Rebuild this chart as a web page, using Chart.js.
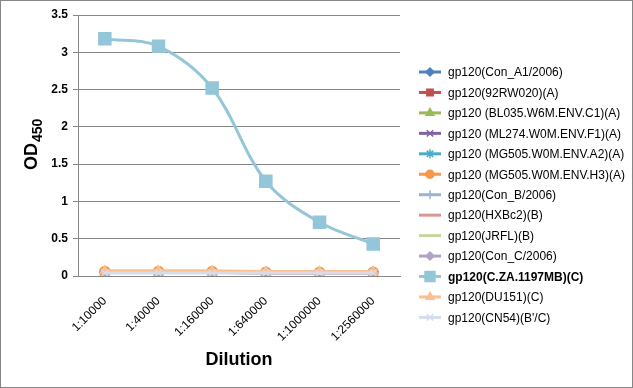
<!DOCTYPE html>
<html>
<head>
<meta charset="utf-8">
<script src="https://cdn.jsdelivr.net/npm/chart.js@4.4.1/dist/chart.umd.min.js"></script>
<style>
  html, body { margin: 0; padding: 0; background: #fff; }
</style>
</head>
<body>
<canvas id="chart" width="633" height="388"></canvas>
<script>
// dilution steps on the x axis
const dilutions = ["1:10000", "1:40000", "1:160000", "1:640000", "1:1000000", "1:2560000"];

// OD450 readings per antigen
const conA1   = [0.05, 0.05, 0.05, 0.05, 0.05, 0.05];
const rw020   = [0.05, 0.05, 0.05, 0.04, 0.04, 0.04];
const bl035   = [0.05, 0.05, 0.05, 0.05, 0.05, 0.05];
const ml274   = [0.05, 0.05, 0.05, 0.05, 0.05, 0.05];
const mg505A2 = [0.05, 0.05, 0.05, 0.05, 0.05, 0.05];
const mg505H3 = [0.06, 0.06, 0.06, 0.05, 0.05, 0.05];
const conB    = [0.05, 0.05, 0.05, 0.05, 0.05, 0.05];
const hxbc2   = [0.06, 0.06, 0.06, 0.06, 0.06, 0.06];
const jrfl    = [0.05, 0.05, 0.05, 0.05, 0.05, 0.05];
const conC    = [0.05, 0.05, 0.05, 0.05, 0.05, 0.05];
const cza     = [3.18, 3.08, 2.52, 1.27, 0.72, 0.43];
const du151   = [0.07, 0.07, 0.07, 0.06, 0.06, 0.06];
const cn54    = [0.04, 0.04, 0.04, 0.04, 0.04, 0.04];

const yTicks = [0, 0.5, 1, 1.5, 2, 2.5, 3, 3.5];

function series(label, data, color, style, radius, legendRadius, bold) {
  return {
    label: label,
    data: data,
    borderColor: color,
    backgroundColor: color,
    pointBackgroundColor: color,
    pointBorderColor: color,
    pointStyle: style,
    pointRadius: radius,
    pointBorderWidth: 1.5,
    borderWidth: 3,
    tension: 0.35,
    legendRadius: legendRadius,
    bold: !!bold
  };
}

const datasets = [
  series("gp120(Con_A1/2006)", conA1, "#4F81BD", "rectRot", 5, 4),
  series("gp120(92RW020)(A)", rw020, "#C0504D", "rect", 5, 4.5),
  series("gp120 (BL035.W6M.ENV.C1)(A)", bl035, "#9BBB59", "triangle", 5, 4.5),
  series("gp120 (ML274.W0M.ENV.F1)(A)", ml274, "#8064A2", "crossRot", 5, 4.5),
  series("gp120 (MG505.W0M.ENV.A2)(A)", mg505A2, "#4BACC6", "star", 5, 4.5),
  series("gp120 (MG505.W0M.ENV.H3)(A)", mg505H3, "#F79646", "circle", 5, 4),
  series("gp120(Con_B/2006)", conB, "#95B3D7", "cross", 5, 4.5),
  series("gp120(HXBc2)(B)", hxbc2, "#D99694", "circle", 0, 0),
  series("gp120(JRFL)(B)", jrfl, "#C3D69B", "circle", 0, 0),
  series("gp120(Con_C/2006)", conC, "#B3A2C7", "rectRot", 5, 4),
  series("gp120(C.ZA.1197MB)(C)", cza, "#93C6D8", "rect", 8.5, 7, true),
  series("gp120(DU151)(C)", du151, "#FAC090", "triangle", 5, 4.5),
  series("gp120(CN54)(B'/C)", cn54, "#D5DCEA", "crossRot", 5, 4.5)
];
// later series are painted over earlier ones
datasets.forEach((ds, i) => { ds.order = datasets.length - i; });

// titles, legend and frame drawn on the canvas
const extras = {
  id: "extras",
  afterDraw(chart) {
    const ctx = chart.ctx;
    ctx.save();
    ctx.fillStyle = "#000";
    ctx.textBaseline = "alphabetic";

    // y title with subscript
    ctx.save();
    ctx.translate(37, 170);
    ctx.rotate(-Math.PI / 2);
    ctx.font = "bold 18px 'Liberation Sans'";
    ctx.textAlign = "left";
    ctx.fillText("OD", 0, 0);
    const w = ctx.measureText("OD").width;
    ctx.font = "bold 14px 'Liberation Sans'";
    ctx.fillText("450", w + 1, 5);
    ctx.restore();

    // x title
    ctx.font = "bold 18px 'Liberation Sans'";
    ctx.textAlign = "center";
    ctx.fillText("Dilution", (chart.chartArea.left + chart.chartArea.right) / 2, 365);

    // legend
    const x0 = 419, x1 = 441, tx = 448;
    chart.data.datasets.forEach((ds, i) => {
      const y = 72 + i * 20.45;
      ctx.strokeStyle = ds.borderColor;
      ctx.lineWidth = 3;
      ctx.beginPath();
      ctx.moveTo(x0, y);
      ctx.lineTo(x1, y);
      ctx.stroke();
      if (ds.legendRadius > 0) {
        ctx.fillStyle = ds.borderColor;
        ctx.lineWidth = 1.5;
        Chart.helpers.drawPoint(ctx, {
          pointStyle: ds.pointStyle,
          radius: ds.legendRadius,
          rotation: 0,
          borderWidth: 1.5
        }, (x0 + x1) / 2, y);
      }
      ctx.fillStyle = "#000";
      ctx.textAlign = "left";
      ctx.textBaseline = "middle";
      ctx.font = (ds.bold ? "bold " : "") + "12px 'Liberation Sans'";
      ctx.fillText(ds.label, tx, y + 1);
    });

    // outer frame
    ctx.strokeStyle = "#868686";
    ctx.lineWidth = 1;
    ctx.strokeRect(0.5, 0.5, 632, 387);
    ctx.restore();
  }
};

new Chart(document.getElementById("chart").getContext("2d"), {
  type: "line",
  data: {
    labels: dilutions,
    datasets: datasets
  },
  options: {
    responsive: false,
    animation: false,
    devicePixelRatio: 1,
    layout: {
      padding: { left: 0, top: 15, right: 233, bottom: 0 }
    },
    scales: {
      x: {
        offset: true,
        grid: { display: false },
        border: { display: true, color: "#868686" },
        ticks: {
          maxRotation: 45,
          minRotation: 45,
          padding: 10,
          color: "#000",
          font: { family: "'Liberation Sans'", size: 12 }
        },
        afterFit(scale) { scale.height = 112; }
      },
      y: {
        min: 0,
        max: 3.5,
        afterBuildTicks(scale) { scale.ticks = yTicks.map(v => ({ value: v })); },
        grid: { color: "#868686", tickLength: 5, drawTicks: true },
        border: { display: true, color: "#868686" },
        ticks: {
          padding: 5,
          color: "#000",
          font: { family: "'Liberation Sans'", size: 12, weight: "bold" },
          callback: v => String(v)
        },
        afterFit(scale) { scale.width = 78; }
      }
    },
    plugins: {
      legend: { display: false },
      tooltip: { enabled: false }
    }
  },
  plugins: [extras]
});
</script>
</body>
</html>
